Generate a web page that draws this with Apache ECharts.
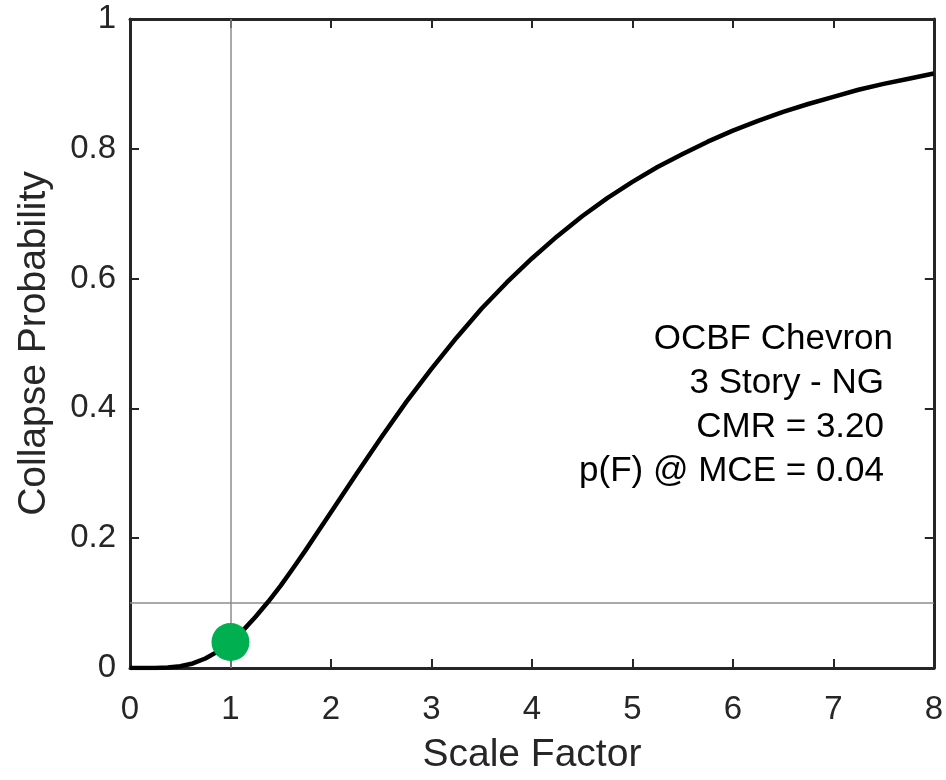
<!DOCTYPE html>
<html>
<head>
<meta charset="utf-8">
<script src="https://cdn.jsdelivr.net/npm/echarts@6/dist/echarts.min.js"></script>
<style>
  html, body { margin: 0; padding: 0; background: #fff; }
  #chart { width: 946px; height: 780px; }
</style>
</head>
<body>
<div id="chart"></div>
<script>
// Fragility curve: collapse probability vs. ground-motion scale factor
const scaleFactor = [0, 0.25, 0.375, 0.5, 0.625, 0.75, 0.875, 1, 1.125, 1.25, 1.375, 1.5, 1.625, 1.75, 1.875, 2,
  2.25, 2.5, 2.75, 3, 3.25, 3.5, 3.75, 4, 4.25, 4.5, 4.75, 5, 5.25, 5.5, 5.75, 6, 6.25, 6.5, 6.75, 7, 7.25, 7.5, 7.75, 8];
const collapseProb = [0, 0.0001, 0.0006, 0.0026, 0.0070, 0.0146, 0.0256, 0.040, 0.058, 0.079, 0.102, 0.127, 0.154, 0.182, 0.211, 0.240,
  0.298, 0.355, 0.410, 0.461, 0.509, 0.554, 0.594, 0.631, 0.665, 0.696, 0.724, 0.749, 0.772, 0.792, 0.811, 0.828, 0.843, 0.857, 0.869, 0.880, 0.891, 0.900, 0.908, 0.916];

// MCE point and reference lines
const mcePoint = [1, 0.04];
const refScale = 1;
const refProb = 0.1;

const annotation = ['OCBF Chevron', '3 Story - NG', 'CMR = 3.20', 'p(F) @ MCE = 0.04'];

const FONT = "'Liberation Sans', Arial, Helvetica, sans-serif";
const INK = '#262626';

const chart = echarts.init(document.getElementById('chart'), null, { renderer: 'canvas' });

const axisLine = { show: true, onZero: false, lineStyle: { color: INK, width: 3 } };
const tick = { show: true, inside: true, length: 9, lineStyle: { color: INK, width: 2 } };

chart.setOption({
  animation: false,
  backgroundColor: '#fff',
  grid: { left: 130, right: 8, top: 19, bottom: 111, containLabel: false },
  xAxis: [
    {
      type: 'value', min: 0, max: 8, interval: 1, position: 'bottom',
      name: 'Scale Factor', nameLocation: 'middle', nameGap: 68,
      nameTextStyle: { fontFamily: FONT, fontSize: 39, color: INK },
      axisLine, axisTick: tick, splitLine: { show: false },
      axisLabel: { fontFamily: FONT, fontSize: 33, color: INK, margin: 25 }
    },
    {
      type: 'value', min: 0, max: 8, interval: 1, position: 'top',
      axisLine, axisTick: tick, splitLine: { show: false },
      axisLabel: { show: false }
    }
  ],
  yAxis: [
    {
      type: 'value', min: 0, max: 1, interval: 0.2, position: 'left',
      name: 'Collapse Probability', nameLocation: 'middle', nameGap: 76,
      nameTextStyle: { fontFamily: FONT, fontSize: 39, color: INK },
      axisLine, axisTick: tick, splitLine: { show: false },
      axisLabel: { fontFamily: FONT, fontSize: 33, color: INK, margin: 14 }
    },
    {
      type: 'value', min: 0, max: 1, interval: 0.2, position: 'right',
      axisLine, axisTick: tick, splitLine: { show: false },
      axisLabel: { show: false }
    }
  ],
  series: [
    {
      type: 'line',
      data: scaleFactor.map((x, i) => [x, collapseProb[i]]),
      smooth: false,
      showSymbol: false,
      lineStyle: { color: '#000', width: 4.5, join: 'round' },
      z: 3,
      markLine: {
        silent: true,
        symbol: 'none',
        label: { show: false },
        lineStyle: { color: '#8c8c8c', width: 1.5, type: 'solid' },
        data: [{ xAxis: refScale }, { yAxis: refProb }],
        z: 2
      }
    },
    {
      type: 'scatter',
      data: [mcePoint],
      symbol: 'circle',
      symbolSize: 38,
      itemStyle: { color: '#00b050', opacity: 1 },
      z: 5
    }
  ],
  graphic: annotation.map((t, i) => ({
    type: 'text',
    right: i === 0 ? 53 : 62,
    top: 322 + i * 44,
    style: { text: t, fontFamily: FONT, fontSize: 35, fill: '#000', textAlign: 'right' }
  }))
});
</script>
</body>
</html>
